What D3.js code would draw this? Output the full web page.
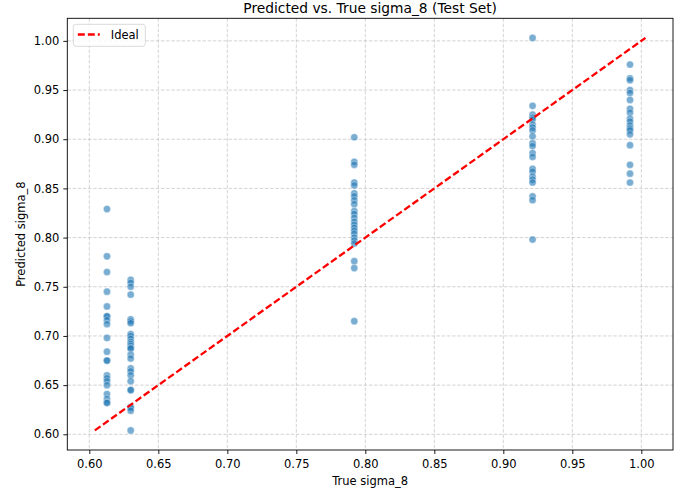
<!DOCTYPE html>
<html>
<head>
<meta charset="utf-8">
<script src="https://cdn.jsdelivr.net/npm/d3@7"></script>
<style>
    body { margin: 0; background: #fff; }
    #chart text { font-family: "DejaVu Sans", sans-serif; fill: #000; }
</style>
</head>
<body>
<div id="chart"></div>
<script>
// True sigma_8 of each test group (x) and the predictions (y)
const trueValues = [0.6128, 0.630, 0.792, 0.9212, 0.9918];

const predGroup1 = [0.829, 0.781, 0.765, 0.745, 0.730, 0.720, 0.720, 0.716, 0.712, 0.698, 0.684,
    0.675, 0.675, 0.660, 0.657, 0.654, 0.650, 0.641, 0.636, 0.632, 0.632];
const predGroup2 = [0.757, 0.754, 0.750, 0.742, 0.717, 0.715, 0.713, 0.702, 0.700, 0.697, 0.694,
    0.692, 0.690, 0.688, 0.687, 0.681, 0.677, 0.667, 0.664, 0.660, 0.654, 0.645, 0.645, 0.628,
    0.627, 0.624, 0.604];
const predGroup3 = [0.902, 0.877, 0.874, 0.856, 0.853, 0.845, 0.842, 0.838, 0.834, 0.827, 0.824,
    0.820, 0.816, 0.813, 0.810, 0.807, 0.804, 0.800, 0.797, 0.794, 0.776, 0.769, 0.715];
const predGroup4 = [1.003, 0.934, 0.925, 0.922, 0.920, 0.915, 0.912, 0.909, 0.903, 0.896, 0.893,
    0.886, 0.882, 0.870, 0.867, 0.862, 0.859, 0.856, 0.842, 0.838, 0.798];
const predGroup5 = [0.976, 0.962, 0.960, 0.950, 0.947, 0.940, 0.931, 0.927, 0.921, 0.918, 0.914,
    0.911, 0.909, 0.905, 0.894, 0.874, 0.865, 0.856];

const xTicks = [0.60, 0.65, 0.70, 0.75, 0.80, 0.85, 0.90, 0.95, 1.00];
const yTicks = [0.60, 0.65, 0.70, 0.75, 0.80, 0.85, 0.90, 0.95, 1.00];

const titleText = "Predicted vs. True sigma_8 (Test Set)";
const xLabel = "True sigma_8";
const yLabel = "Predicted sigma_8";
const legendLabel = "Ideal";

document.addEventListener('DOMContentLoaded', function() {
    const groups = [predGroup1, predGroup2, predGroup3, predGroup4, predGroup5];
    const points = groups.flatMap((g, i) => g.map(p => ({ x: trueValues[i], y: p })));

    // Ideal line spans min to max of everything (as in the original plot)
    const allVals = points.flatMap(d => [d.x, d.y]);
    const minVal = d3.min(allVals);
    const maxVal = d3.max(allVals);
    const pad = (maxVal - minVal) * 0.05;

    const fullWidth = 691, fullHeight = 492;
    const margin = { top: 18.3, right: 18, bottom: 42, left: 67.3 };
    const width = fullWidth - margin.left - margin.right;
    const height = fullHeight - margin.top - margin.bottom;

    const x = d3.scaleLinear()
        .domain([minVal - pad, maxVal + pad])
        .range([0, width]);

    const y = d3.scaleLinear()
        .domain([minVal - pad, maxVal + pad])
        .range([height, 0]);

    const svg = d3.select("#chart").append("svg")
        .attr("width", fullWidth)
        .attr("height", fullHeight)
        .append("g")
        .attr("transform", `translate(${margin.left},${margin.top})`);

    // Grid lines
    svg.append("g")
        .selectAll("line")
        .data(xTicks)
        .enter().append("line")
        .attr("x1", d => x(d)).attr("x2", d => x(d))
        .attr("y1", 0).attr("y2", height)
        .attr("stroke", "#b0b0b0")
        .attr("stroke-opacity", 0.7)
        .attr("stroke-width", 0.8)
        .attr("stroke-dasharray", "3.5,1.7");

    svg.append("g")
        .selectAll("line")
        .data(yTicks)
        .enter().append("line")
        .attr("y1", d => y(d)).attr("y2", d => y(d))
        .attr("x1", 0).attr("x2", width)
        .attr("stroke", "#b0b0b0")
        .attr("stroke-opacity", 0.7)
        .attr("stroke-width", 0.8)
        .attr("stroke-dasharray", "3.5,1.7");

    // Scatter points
    svg.append("g")
        .selectAll("circle")
        .data(points)
        .enter().append("circle")
        .attr("cx", d => x(d.x))
        .attr("cy", d => y(d.y))
        .attr("r", 3.6)
        .attr("fill", "#1f77b4")
        .attr("fill-opacity", 0.6)
        .attr("stroke", "#fff")
        .attr("stroke-opacity", 0.6)
        .attr("stroke-width", 0.6);

    // Ideal line
    svg.append("line")
        .attr("x1", x(minVal)).attr("y1", y(minVal))
        .attr("x2", x(maxVal)).attr("y2", y(maxVal))
        .attr("stroke", "red")
        .attr("stroke-width", 2.3)
        .attr("stroke-dasharray", "7,3");

    // Axes
    const xAxis = svg.append("g")
        .attr("transform", `translate(0,${height})`)
        .call(d3.axisBottom(x).tickValues(xTicks).tickFormat(d3.format(".2f")).tickSize(4).tickPadding(4));

    const yAxis = svg.append("g")
        .call(d3.axisLeft(y).tickValues(yTicks).tickFormat(d3.format(".2f")).tickSize(4).tickPadding(4));

    [xAxis, yAxis].forEach(a => {
        a.select(".domain").remove();
        a.selectAll("line").attr("stroke", "#000").attr("stroke-width", 0.9);
        a.selectAll("text").style("font-size", "11.5px");
    });
    xAxis.selectAll("text").attr("dy", "0.85em");

    // Frame
    svg.append("rect")
        .attr("width", width)
        .attr("height", height)
        .attr("fill", "none")
        .attr("stroke", "#000")
        .attr("stroke-width", 0.9);

    // Title and labels
    svg.append("text")
        .attr("x", width / 2)
        .attr("y", -5.5)
        .style("text-anchor", "middle")
        .style("font-size", "13.8px")
        .text(titleText);

    svg.append("text")
        .attr("x", width / 2)
        .attr("y", height + 35)
        .style("text-anchor", "middle")
        .style("font-size", "11.5px")
        .text(xLabel);

    svg.append("text")
        .attr("transform", "rotate(-90)")
        .attr("x", -height / 2)
        .attr("y", -margin.left + 25)
        .style("text-anchor", "middle")
        .style("font-size", "11.5px")
        .text(yLabel);

    // Legend
    const legend = svg.append("g").attr("transform", "translate(6,6)");
    legend.append("rect")
        .attr("width", 72)
        .attr("height", 22)
        .attr("rx", 2.5)
        .attr("fill", "#fff")
        .attr("fill-opacity", 0.8)
        .attr("stroke", "#d6d6d6")
        .attr("stroke-width", 0.9);
    legend.append("line")
        .attr("x1", 4.5).attr("x2", 26.5)
        .attr("y1", 10.2).attr("y2", 10.2)
        .attr("stroke", "red")
        .attr("stroke-width", 2.3)
        .attr("stroke-dasharray", "7,3");
    legend.append("text")
        .attr("x", 37.5)
        .attr("y", 14.3)
        .style("font-size", "11.5px")
        .text(legendLabel);
});
</script>
</body>
</html>
